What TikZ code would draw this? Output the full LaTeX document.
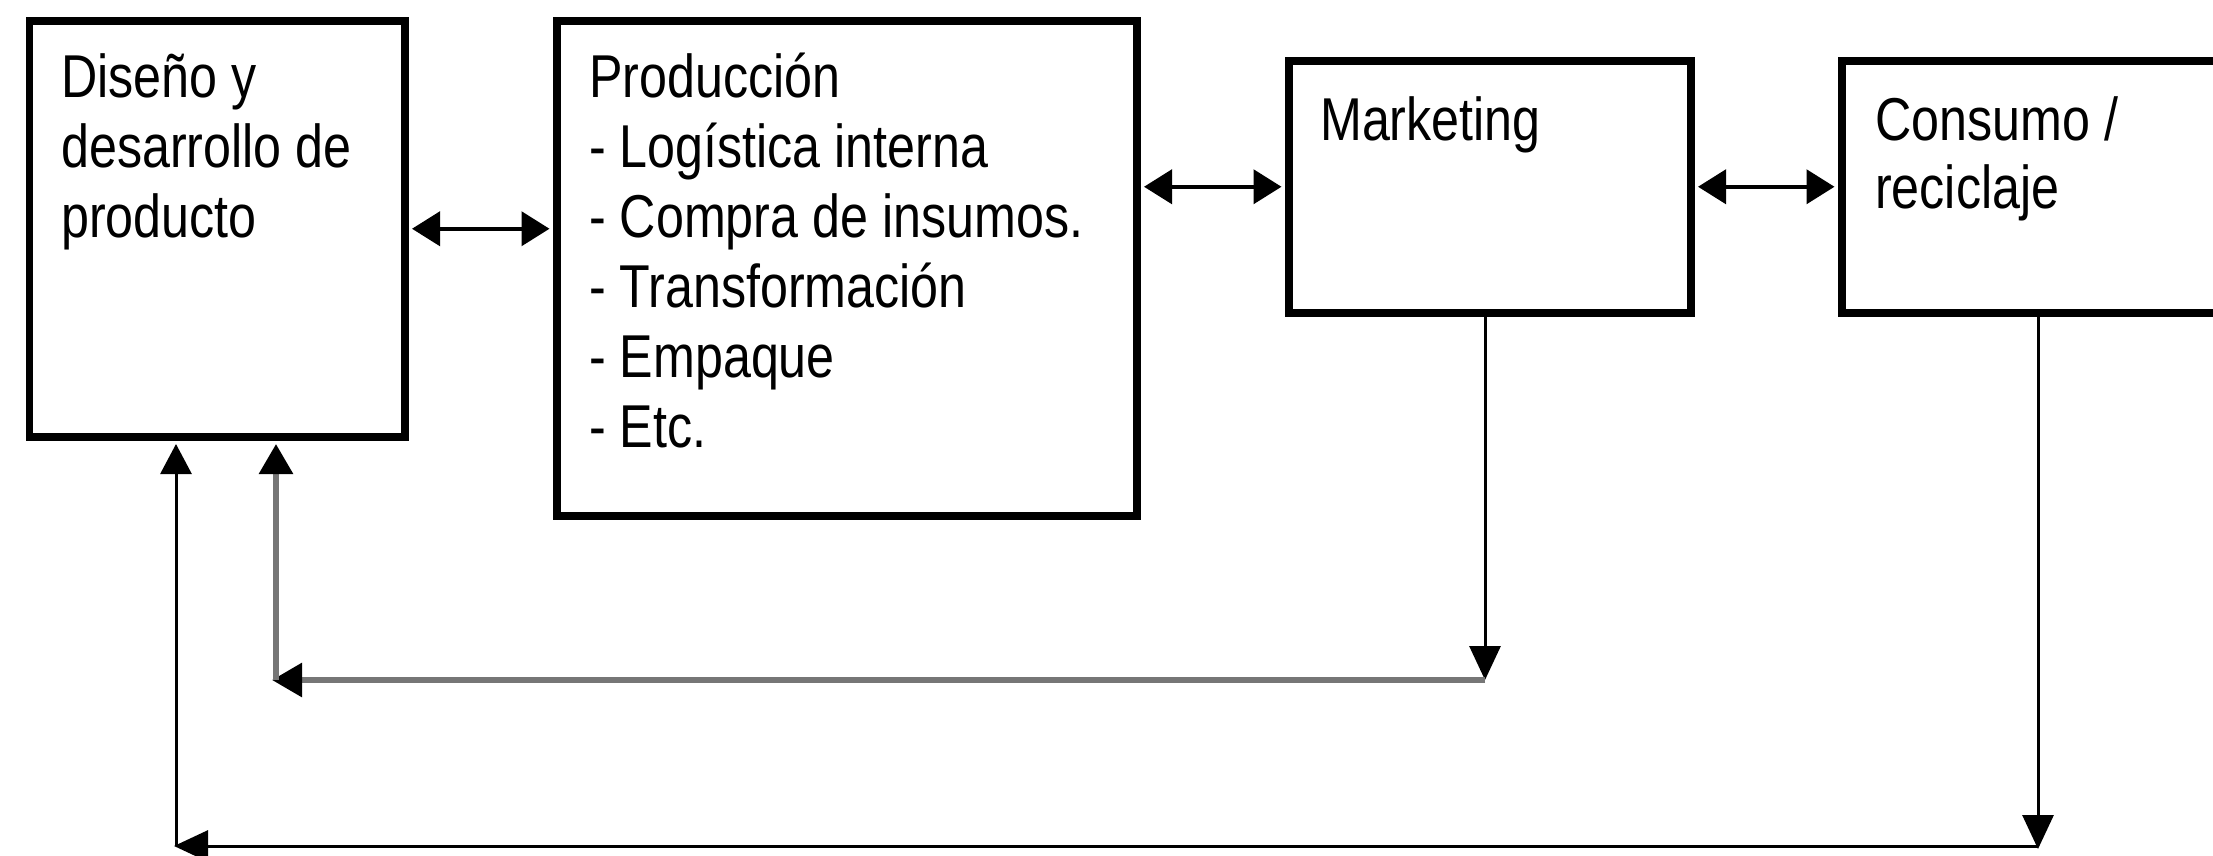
\documentclass[tikz,border=0pt]{standalone}
\usepackage{fontspec}
\setmainfont[FakeStretch=0.83]{Liberation Sans}
\usetikzlibrary{arrows.meta}
\definecolor{fbgray}{RGB}{118,118,118}
\tikzset{
  box/.style={draw=black, line width=7.5pt, fill=white, inner sep=0pt, anchor=north west},
  lbl/.style={anchor=base west, inner sep=0pt, font=\fontsize{60.5}{70}\selectfont},
  dbl/.style={line width=4pt, {Triangle[length=28pt,width=34pt]}-{Triangle[length=28pt,width=34pt]}, shorten <=3.5pt, shorten >=3.5pt},
  thin/.style={line width=3pt, -{Triangle[length=34pt,width=31pt]}},
  gline/.style={line width=6pt, draw=fbgray, -{Triangle[length=30pt,width=33pt,color=black]}}
}
\begin{document}
\begin{tikzpicture}[x=1pt,y=-1pt]
\useasboundingbox (0,0) rectangle (2213,855);
\clip (0,0) rectangle (2213,855);
% boxes
\node[box, minimum width=375.5pt, minimum height=416pt] (dis) at (25.5,17) {};
\node[box, minimum width=580pt, minimum height=495pt] (prod) at (553,17) {};
\node[box, minimum width=402pt, minimum height=252pt] (mkt) at (1285,57) {};
\node[box, minimum width=460pt, minimum height=252pt] (cons) at (1838,57) {};
% texts
\node[lbl] (d1) at (61,97) {Diseño y};
\node[lbl] (d2) at (61,167) {desarrollo de};
\node[lbl] (d3) at (61,237) {producto};
\node[lbl] (p1) at (589,97) {Producción};
\node[lbl] (p2) at (589,167) {- Logística interna};
\node[lbl] (p3) at (589,237) {- Compra de insumos.};
\node[lbl] (p4) at (589,307) {- Transformación};
\node[lbl] (p5) at (589,377) {- Empaque};
\node[lbl] (p6) at (589,447) {- Etc.};
\node[lbl] (m1) at (1320,140) {Marketing};
\node[lbl] (c1t) at (1875,140) {Consumo /};
\node[lbl] (c2t) at (1875,208) {reciclaje};
% double arrows
\draw[dbl] (dis.east) -- (prod.west |- dis.east);
\draw[dbl] (prod.east |- mkt.west) -- (mkt.west);
\draw[dbl] (mkt.east) -- (cons.west);
% feedback coordinates
\coordinate (k1) at (1485,680);
\coordinate (k2) at (276,680);
\coordinate (k3) at (2038,846);
\coordinate (k4) at (176,846);
% marketing feedback
\draw[thin] (k1 |- mkt.south) -- (k1);
\draw[gline, shorten >=-4pt] (k1) -- (k2);
\draw[gline, shorten >=3.5pt] (k2) -- (k2 |- dis.south);
% consumo feedback
\draw[thin] (k3 |- cons.south) -- ([yshift=-3pt]k3);
\draw[thin, shorten >=-2pt] (k3) -- (k4);
\draw[thin, -{Triangle[length=30pt,width=31pt]}, shorten >=3.5pt] (k4) -- (k4 |- dis.south);
\end{tikzpicture}
\end{document}
